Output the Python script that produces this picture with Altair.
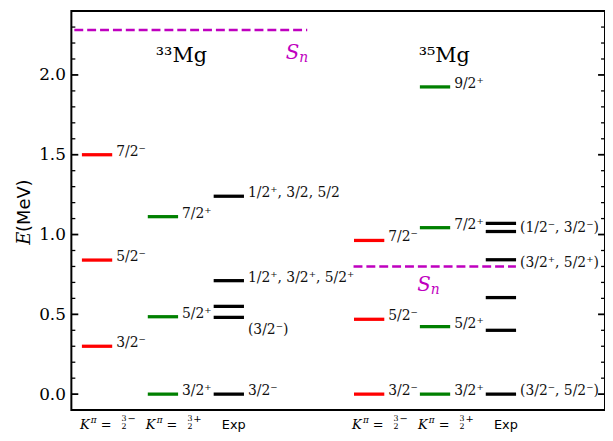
import altair as alt
import pandas as pd

# ---------------- data ----------------
col33 = [0.39, 1.39, 2.39]          # K=3/2-, K=3/2+, Exp columns for 33Mg
col35 = [4.52, 5.52, 6.52]          # same for 35Mg
half_w = 0.23

mg33_red_E = [0.30, 0.84, 1.50]
mg33_red_J = ["3/2⁻", "5/2⁻", "7/2⁻"]
mg33_green_E = [0.0, 0.485, 1.112]
mg33_green_J = ["3/2⁺", "5/2⁺", "7/2⁺"]
mg33_exp_E = [0.0, 0.481, 0.55, 0.711, 1.240]
mg33_exp_J = ["3/2⁻", "(3/2⁻)", "", "1/2⁺, 3/2⁺, 5/2⁺", "1/2⁺, 3/2, 5/2"]
mg33_exp_Jy = [0.0, 0.38, 0.55, 0.711, 1.240]
mg33_Sn = 2.282

mg35_red_E = [0.0, 0.469, 0.963]
mg35_red_J = ["3/2⁻", "5/2⁻", "7/2⁻"]
mg35_green_E = [0.0, 0.423, 1.043, 1.925]
mg35_green_J = ["3/2⁺", "5/2⁺", "7/2⁺", "9/2⁺"]
mg35_exp_E = [0.0, 0.40, 0.605, 0.842, 1.019, 1.07]
mg35_exp_J = ["(3/2⁻, 5/2⁻)", "", "", "(3/2⁺, 5/2⁺)", "(1/2⁻, 3/2⁻)", ""]
mg35_exp_Jy = [0.0, 0.40, 0.605, 0.803, 1.019, 1.07]
mg35_Sn = 0.80

sn_x1 = [0.045, 4.283]
sn_x2 = [3.58, 6.748]
sn_E = [mg33_Sn, mg35_Sn]
sn_label_x = [3.46, 5.455]
sn_label_y = [2.135, 0.683]

iso_names = ["³³Mg", "³⁵Mg"]
iso_x = [1.67, 5.66]
iso_y = [2.121, 2.121]

major_ticks = [0.0, 0.5, 1.0, 1.5, 2.0]
minor_ticks = [0.1, 0.2, 0.3, 0.4, 0.6, 0.7, 0.8, 0.9, 1.1, 1.2, 1.3, 1.4,
               1.6, 1.7, 1.8, 1.9, 2.1, 2.2, 2.3]

k_signs = ["−", "+", "−", "+"]
k_cols = [col33[0], col33[1], col35[0], col35[1]]
exp_cols = [col33[2], col35[2]]

RED, GREEN, BLACK, MAG = "#ff0000", "#008000", "#000000", "#bf00bf"

# --------------- tables ---------------
rows = []
def add(col, Es, Js, color, Jys=None):
    for i, (e, j) in enumerate(zip(Es, Js)):
        rows.append(dict(x1=col - half_w, x2=col + half_w, xl=col + half_w + 0.06,
                         E=e, J=j, Ly=(Jys[i] if Jys else e), c=color))

add(col33[0], mg33_red_E, mg33_red_J, RED)
add(col33[1], mg33_green_E, mg33_green_J, GREEN)
add(col33[2], mg33_exp_E, mg33_exp_J, BLACK, mg33_exp_Jy)
add(col35[0], mg35_red_E, mg35_red_J, RED)
add(col35[1], mg35_green_E, mg35_green_J, GREEN)
add(col35[2], mg35_exp_E, mg35_exp_J, BLACK, mg35_exp_Jy)
levels = pd.DataFrame(rows)

SERIF = "DejaVu Serif"
xs = alt.Scale(domain=[0, 8.1], nice=False, zero=False)
ys = alt.Scale(domain=[-0.1, 2.4], nice=False, zero=False)
YAX = alt.Axis(values=major_ticks, format=".1f", ticks=False, domain=False, grid=False,
               labelFont=SERIF, labelFontSize=17, labelColor="black", labelPadding=6,
               title=None)

def Y(field):
    return alt.Y(field, scale=ys, axis=YAX)

def X(field):
    return alt.X(field, scale=xs, axis=None)

lev = alt.Chart(levels).mark_rule(strokeWidth=3.3).encode(
    x=X("x1:Q"), x2="x2:Q", y=Y("E:Q"), color=alt.Color("c:N", scale=None),
)

lab = alt.Chart(levels[levels.J != ""]).mark_text(
    align="left", baseline="middle", dy=-3, font=SERIF, fontSize=14, color="#111"
).encode(x=X("xl:Q"), y=Y("Ly:Q"), text="J:N")

sn_df = pd.DataFrame(dict(x1=sn_x1, x2=sn_x2, E=sn_E, lx=sn_label_x, ly=sn_label_y))
sn = alt.Chart(sn_df).mark_rule(color=MAG, strokeWidth=2.5, strokeDash=[9, 4]).encode(
    x=X("x1:Q"), x2="x2:Q", y=Y("E:Q"))
sn_S = alt.Chart(sn_df).mark_text(text="S", align="right", baseline="middle", font=SERIF,
                                  fontStyle="italic", fontSize=20, color=MAG).encode(
    x=X("lx:Q"), y=Y("ly:Q"))
sn_n = alt.Chart(sn_df).mark_text(text="n", align="left", baseline="middle", font=SERIF,
                                  fontStyle="italic", fontSize=14, color=MAG, dy=5).encode(
    x=X("lx:Q"), y=Y("ly:Q"))

iso_df = pd.DataFrame(dict(t=iso_names, x=iso_x, y=iso_y))
iso = alt.Chart(iso_df).mark_text(align="center", baseline="middle", font=SERIF,
                                  fontSize=21, color="black").encode(
    x=X("x:Q"), y=Y("y:Q"), text="t:N")

# ticks (inward, both sides)
W, H = 539, 403
def tick_layer(vals, x_from, x_to, w):
    return alt.Chart(pd.DataFrame(dict(v=vals))).mark_rule(color="black", strokeWidth=w).encode(
        y=Y("v:Q"), x=alt.value(x_from), x2=alt.value(x_to))

ticks = [tick_layer(major_ticks, 0, 7, 1.8), tick_layer(minor_ticks, 0, 4, 1.3),
         tick_layer(major_ticks, W, W - 7, 1.8), tick_layer(minor_ticks, W, W - 4, 1.3)]

# bottom labels  K^pi = 3/2^(-/+)
kdf = pd.DataFrame(dict(x=[c - 0.26 for c in k_cols], s=k_signs, y=[-0.1] * 4))
def kpart(text, dx, dy, size, italic=False, field=None):
    kw = dict(align="left", baseline="middle", font=SERIF, fontSize=size, color="black",
              dx=dx, dy=dy)
    if italic:
        kw["fontStyle"] = "italic"
    if field is None:
        kw["text"] = text
    ch = alt.Chart(kdf).mark_text(**kw).encode(x=X("x:Q"), y=Y("y:Q"))
    if field is not None:
        ch = ch.encode(text=field)
    return ch

kparts = [
    kpart("K", 0, 15, 13, italic=True),
    kpart("π", 11, 10, 9, italic=True),
    kpart("=", 21, 15, 13),
    kpart("3", 42, 9, 8),
    kpart("2", 42, 17, 8),
    kpart(None, 48, 9, 10, field="s:N"),
]
exp_df = pd.DataFrame(dict(x=[c + 0.075 for c in exp_cols], y=[-0.1, -0.1]))
explab = alt.Chart(exp_df).mark_text(text="Exp", align="center", baseline="middle",
                                     font="DejaVu Sans", fontSize=13, color="black", dy=15).encode(
    x=X("x:Q"), y=Y("y:Q"))

# y title: italic E + (MeV)
tdf = pd.DataFrame(dict(a=[0]))
tE = alt.Chart(tdf).mark_text(text="E", angle=270, align="left", baseline="middle",
                              font=SERIF, fontStyle="italic", fontSize=18, color="black").encode(
    x=alt.value(-47), y=alt.value(236))
tM = alt.Chart(tdf).mark_text(text="(MeV)", angle=270, align="left", baseline="middle",
                              font="DejaVu Sans", fontSize=18, color="black").encode(
    x=alt.value(-47), y=alt.value(223))

chart = alt.layer(lev, lab, sn, sn_S, sn_n, iso, *ticks, *kparts, explab, tE, tM).properties(
    width=W, height=H,
    autosize=alt.AutoSizeParams(type="none"),
    padding={"left": 64, "top": 1, "right": 0, "bottom": 21},
).configure_view(stroke="black", strokeWidth=2)

chart.save("out.html", embed_options={"renderer": "svg", "actions": False})
